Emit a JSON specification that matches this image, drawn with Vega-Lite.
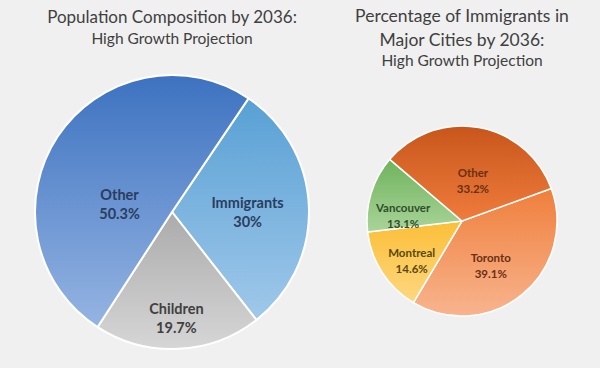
{
  "$schema": "https://vega.github.io/schema/vega-lite/v6.json",
  "background": "#f0f0f0",
  "padding": {"top": 8, "left": 0, "right": 20, "bottom": 12},
  "spacing": 0,
  "config": {
    "view": {"stroke": null},
    "font": "Lato",
    "title": {"fontWeight": "normal", "color": "#404040", "subtitleColor": "#404040", "anchor": "middle", "font": "Lato", "subtitleFont": "Lato"}
  },
  "hconcat": [
    {
      "width": 344,
      "height": 270,
      "title": {"text": "Population Composition by 2036:", "subtitle": "High Growth Projection", "fontSize": 17, "subtitleFontSize": 15.5, "subtitlePadding": 5, "offset": 23},
      "data": {"values": [
        {"category": "Immigrants", "value": 30},
        {"category": "Children", "value": 19.7},
        {"category": "Other", "value": 50.3}
      ]},
      "transform": [
        {"window": [{"op": "row_number", "as": "idx"}]},
        {"calculate": "datum.category + '\\n' + datum.value + '%'", "as": "label"}
      ],
      "encoding": {
        "theta": {"field": "value", "type": "quantitative", "stack": true, "scale": {"range": [0.593, 6.876]}},
        "order": {"field": "idx", "type": "quantitative"}
      },
      "layer": [
        {
          "mark": {"type": "arc", "radius": 137, "stroke": "white", "strokeWidth": 2},
          "encoding": {
            "color": {
              "condition": [
                {"test": "datum.category === 'Immigrants'", "value": {"gradient": "linear", "x1": 0, "y1": 0, "x2": 0, "y2": 1, "stops": [{"offset": 0, "color": "#58a0d4"}, {"offset": 1, "color": "#a0c8ea"}]}},
                {"test": "datum.category === 'Children'", "value": {"gradient": "linear", "x1": 0, "y1": 0, "x2": 0, "y2": 1, "stops": [{"offset": 0, "color": "#ababab"}, {"offset": 1, "color": "#d6d6d6"}]}}
              ],
              "value": {"gradient": "linear", "x1": 0, "y1": 0, "x2": 0, "y2": 1, "stops": [{"offset": 0, "color": "#3d72c0"}, {"offset": 1, "color": "#95b4e2"}]}
            }
          }
        },
        {
          "mark": {"type": "text", "radius": 55, "thetaOffset": -0.28, "lineBreak": "\n", "fontSize": 14.5, "fontWeight": "bold", "lineHeight": 19, "color": "#2a3d5e"},
          "encoding": {"text": {"condition": {"test": "datum.category === 'Other'", "field": "label"}, "value": ""}}
        },
        {
          "mark": {"type": "text", "radius": 76, "thetaOffset": -0.07, "lineBreak": "\n", "fontSize": 14.5, "fontWeight": "bold", "lineHeight": 19, "color": "#2a3d5e"},
          "encoding": {"text": {"condition": {"test": "datum.category === 'Immigrants'", "field": "label"}, "value": ""}}
        },
        {
          "mark": {"type": "text", "radius": 98, "lineBreak": "\n", "fontSize": 14.5, "fontWeight": "bold", "lineHeight": 19, "color": "#404040"},
          "encoding": {"text": {"condition": {"test": "datum.category === 'Children'", "field": "label"}, "value": ""}}
        }
      ]
    },
    {
      "width": 236,
      "height": 288,
      "title": {"text": ["Percentage of Immigrants in", "Major Cities by 2036:"], "subtitle": "High Growth Projection", "fontSize": 17.5, "lineHeight": 24, "subtitleFontSize": 15.5, "subtitlePadding": 4, "offset": 8},
      "data": {"values": [
        {"category": "Toronto", "value": 39.1},
        {"category": "Montreal", "value": 14.6},
        {"category": "Vancouver", "value": 13.1},
        {"category": "Other", "value": 33.2}
      ]},
      "transform": [
        {"window": [{"op": "row_number", "as": "idx"}]},
        {"calculate": "datum.category + '\\n' + datum.value + '%'", "as": "label"}
      ],
      "encoding": {
        "theta": {"field": "value", "type": "quantitative", "stack": true, "scale": {"range": [1.222, 7.505]}},
        "order": {"field": "idx", "type": "quantitative"}
      },
      "layer": [
        {
          "mark": {"type": "arc", "radius": 95, "stroke": "white", "strokeWidth": 1.5},
          "encoding": {
            "color": {
              "condition": [
                {"test": "datum.category === 'Toronto'", "value": {"gradient": "linear", "x1": 0, "y1": 0, "x2": 0, "y2": 1, "stops": [{"offset": 0, "color": "#ef7f3c"}, {"offset": 1, "color": "#f8b48e"}]}},
                {"test": "datum.category === 'Montreal'", "value": {"gradient": "linear", "x1": 0, "y1": 0, "x2": 0, "y2": 1, "stops": [{"offset": 0, "color": "#fbbf38"}, {"offset": 1, "color": "#fdd780"}]}},
                {"test": "datum.category === 'Vancouver'", "value": {"gradient": "linear", "x1": 0, "y1": 0, "x2": 0, "y2": 1, "stops": [{"offset": 0, "color": "#6fb35d"}, {"offset": 1, "color": "#a9d498"}]}}
              ],
              "value": {"gradient": "linear", "x1": 0, "y1": 0, "x2": 0, "y2": 1, "stops": [{"offset": 0, "color": "#c8561c"}, {"offset": 1, "color": "#ef7c3c"}]}
            }
          }
        },
        {
          "mark": {"type": "text", "radius": 48, "thetaOffset": 0.05, "lineBreak": "\n", "fontSize": 11.5, "fontWeight": "bold", "lineHeight": 16, "color": "#6a2f12"},
          "encoding": {"text": {"condition": {"test": "datum.category === 'Other' || datum.category === 'Toronto'", "field": "label"}, "value": ""}}
        },
        {
          "mark": {"type": "text", "radius": 60, "lineBreak": "\n", "fontSize": 11.5, "fontWeight": "bold", "lineHeight": 16, "color": "#5a4710"},
          "encoding": {"text": {"condition": {"test": "datum.category === 'Montreal'", "field": "label"}, "value": ""}}
        },
        {
          "mark": {"type": "text", "radius": 60, "thetaOffset": -0.1, "lineBreak": "\n", "fontSize": 11.5, "fontWeight": "bold", "lineHeight": 16, "color": "#2f4d2a"},
          "encoding": {"text": {"condition": {"test": "datum.category === 'Vancouver'", "field": "label"}, "value": ""}}
        }
      ]
    }
  ]
}
